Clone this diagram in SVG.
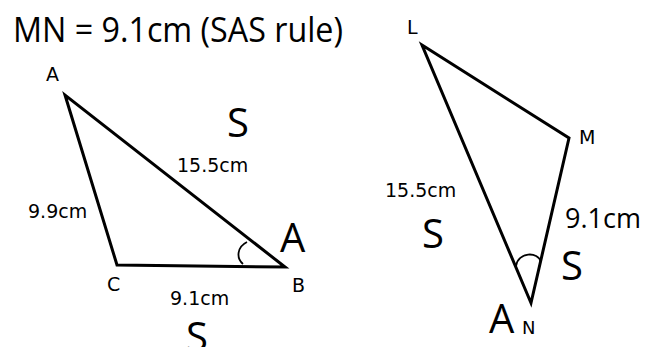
<svg xmlns="http://www.w3.org/2000/svg" width="652" height="347" viewBox="0 0 652 347">
<style>
.tri{fill:none;stroke:#000;stroke-width:3;stroke-linejoin:miter}
.arc{fill:none;stroke:#000;stroke-width:1.8}
.title{font-family:"Open Sans","Noto Sans",sans-serif;font-size:34px;fill:#000}
.big{font-family:"Open Sans","Noto Sans",sans-serif;font-size:40px;fill:#000}
.len{font-family:"DejaVu Sans",sans-serif;font-size:19px;fill:#000}
.len2{font-family:"Open Sans","Noto Sans",sans-serif;font-size:27px;fill:#000}
.pt{font-family:"DejaVu Sans",sans-serif;font-size:19px;fill:#000}
</style>
<rect width="652" height="347" fill="#fff"/>
<text class="title" x="13" y="42" textLength="330" lengthAdjust="spacingAndGlyphs">MN = 9.1cm (SAS rule)</text>
<g id="triangle-ABC">
<polygon class="tri" points="65,95 117,265 285,267"/>
<path class="arc" d="M243,264 C236,258 237,247 247,242"/>
<text class="pt" x="46" y="81">A</text>
<text class="pt" x="107" y="291">C</text>
<text class="pt" x="292" y="292">B</text>
<text class="len" x="177" y="172">15.5cm</text>
<text class="len" x="28" y="218">9.9cm</text>
<text class="len" x="170" y="305">9.1cm</text>
<text class="big" x="227" y="137">S</text>
<text class="big" x="186" y="351">S</text>
<text class="big" x="280" y="252">A</text>
</g>
<g id="triangle-LMN">
<polygon class="tri" points="422,45 569,138 531,303"/>
<path class="arc" d="M516,266 C518,252 538,251 541,262"/>
<text class="pt" x="407" y="34">L</text>
<text class="pt" x="579" y="144">M</text>
<text class="pt" x="522" y="334" style="font-size:18px">N</text>
<text class="len" x="385" y="197">15.5cm</text>
<text class="len2" x="565" y="228">9.1cm</text>
<text class="big" x="422" y="248">S</text>
<text class="big" x="561" y="280">S</text>
<text class="big" x="489" y="333">A</text>
</g>
</svg>
